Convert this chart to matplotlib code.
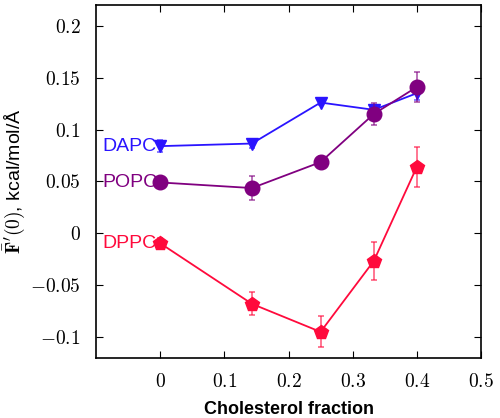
import matplotlib.pyplot as plt

plt.rcParams['mathtext.fontset'] = 'cm'
plt.rcParams['font.family'] = ['Liberation Sans', 'DejaVu Sans']

chol = [0.0, 0.143, 0.25, 0.333, 0.4]

dapc = [0.084, 0.0865, 0.126, 0.119, 0.135]
dapc_err = [0.006, 0.004, 0.002, 0.002, 0.007]

popc = [0.049, 0.0436, 0.0686, 0.115, 0.141]
popc_err = [0.002, 0.0115, 0.006, 0.011, 0.014]

dppc = [-0.0096, -0.068, -0.095, -0.0266, 0.064]
dppc_err = [0.0055, 0.011, 0.015, 0.018, 0.019]

xticks = [0, 0.1, 0.2, 0.3, 0.4, 0.5]
xtick_labels = ['$0$', '$0.1$', '$0.2$', '$0.3$', '$0.4$', '$0.5$']
yticks = [-0.1, -0.05, 0, 0.05, 0.1, 0.15, 0.2]
ytick_labels = ['$-0.1$', '$-0.05$', '$0$', '$0.05$', '$0.1$', '$0.15$', '$0.2$']

series = [
    ('DAPC', dapc, dapc_err, '#2a14ff', 'v', 8.5),
    ('POPC', popc, popc_err, '#800080', 'o', 10.5),
    ('DPPC', dppc, dppc_err, '#ff0a3c', 'p', 10.5),
]

fig = plt.figure(figsize=(5, 4.18), dpi=100)
ax = fig.add_axes([0.192, 0.144, 0.77, 0.844])

for name, vals, errs, color, marker, ms in series:
    ax.errorbar(chol, vals, yerr=errs, fmt='none', ecolor=color, alpha=0.6,
                capsize=2, elinewidth=1.3, capthick=1.3)
    ax.plot(chol, vals, color=color, marker=marker, markersize=ms, lw=1.3)
    ax.text(-0.0905, vals[0], name, color=color, fontsize=14,
            ha='left', va='center')

ax.set_xlim(-0.1, 0.5)
ax.set_ylim(-0.12, 0.22)
ax.set_xticks(xticks)
ax.set_xticklabels(xtick_labels, fontsize=14)
ax.set_yticks(yticks)
ax.set_yticklabels(ytick_labels, fontsize=14)
ax.tick_params(direction='in', top=True, right=True, length=5, pad=11)
for s in ax.spines.values():
    s.set_linewidth(1.2)

ax.set_xlabel('Cholesterol fraction', fontsize=13, fontweight='bold', labelpad=7)
ax.set_ylabel("$\\bar{\\mathbf{F}}'(\\mathbf{0})$, kcal/mol/Å", fontsize=14)
ax.yaxis.set_label_coords(-0.18, 0.5)

fig.savefig('out.png', dpi=100)
